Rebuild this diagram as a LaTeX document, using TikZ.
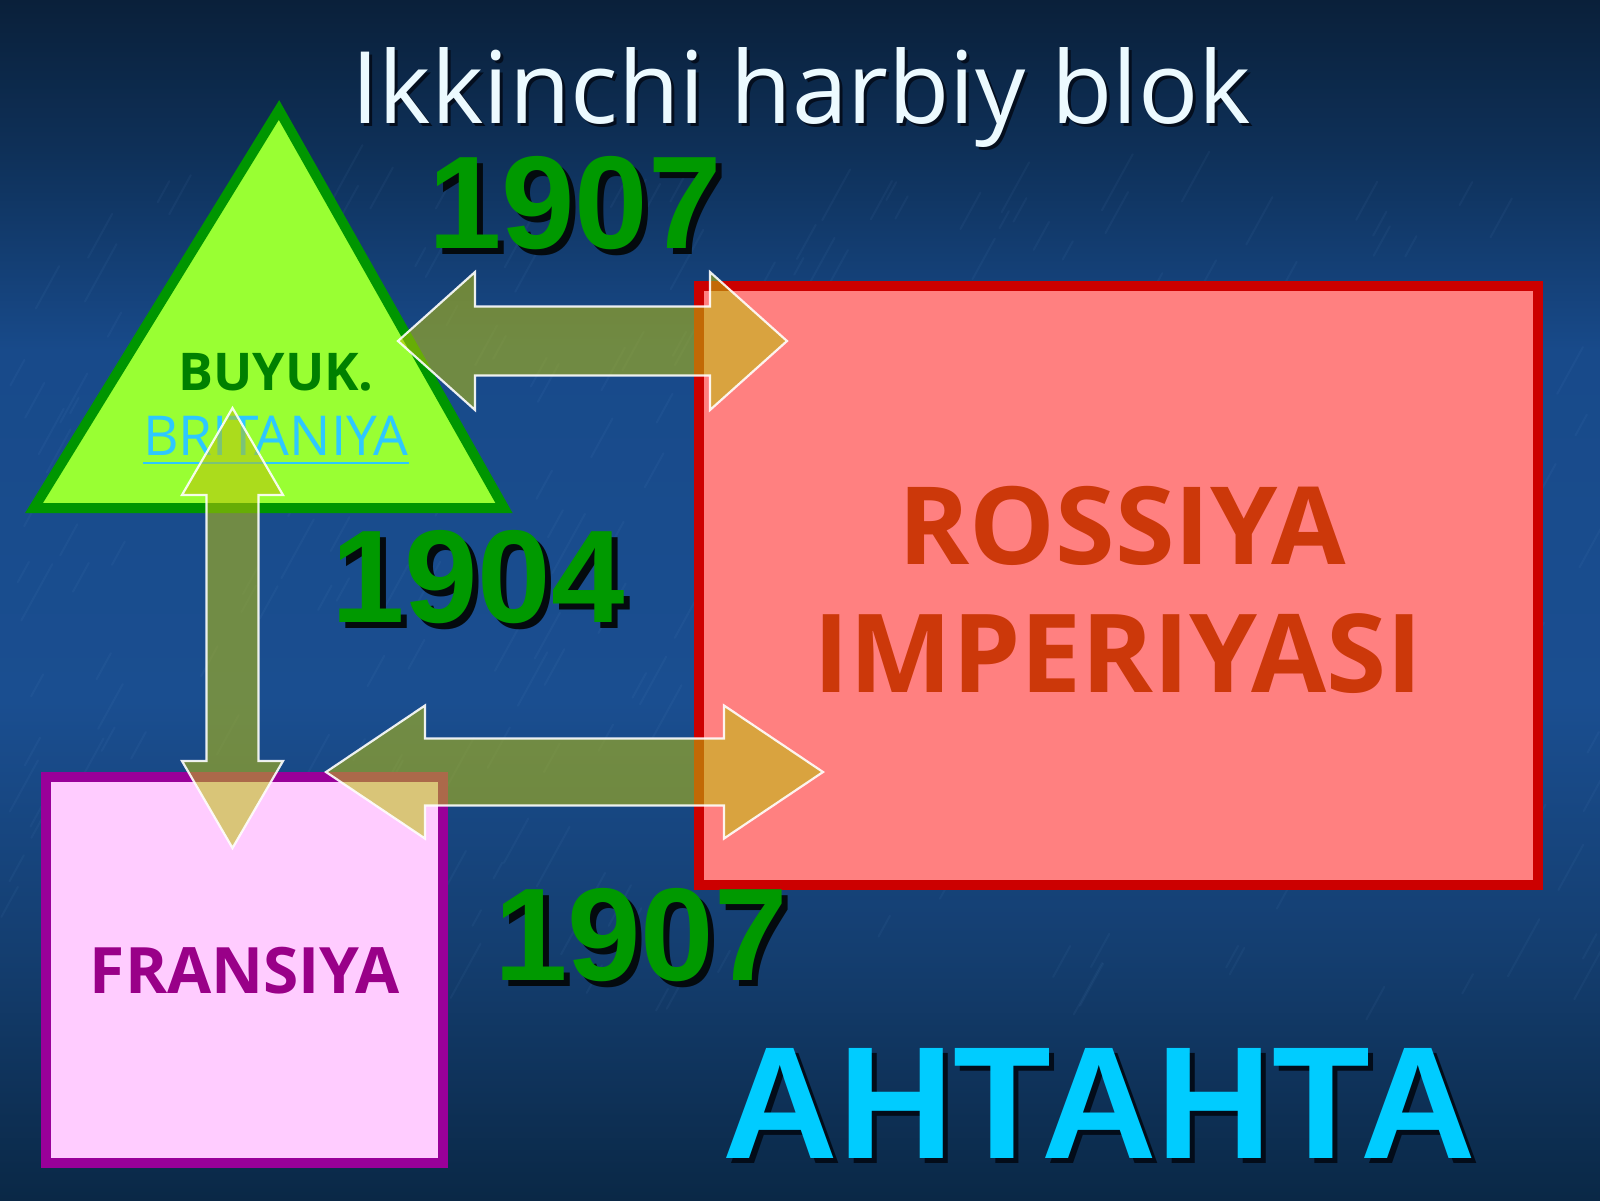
\documentclass[tikz,border=0pt]{standalone}
\usepackage{fontspec}
\setmainfont{Open Sans}
\newfontfamily\lsans{Liberation Sans}
\usetikzlibrary{calc}
\definecolor{bg0}{RGB}{10,32,58}
\definecolor{bg1}{RGB}{14,48,88}
\definecolor{bg2}{RGB}{24,74,138}
\definecolor{bg3}{RGB}{26,78,144}
\definecolor{bg4}{RGB}{20,62,112}
\definecolor{bg5}{RGB}{10,40,70}
\definecolor{streakc}{RGB}{120,170,225}
\definecolor{trifillc}{RGB}{153,255,51}
\definecolor{triline}{RGB}{0,150,0}
\definecolor{buyukc}{RGB}{0,128,0}
\definecolor{britc}{RGB}{45,200,255}
\definecolor{redfill}{RGB}{255,128,128}
\definecolor{redline}{RGB}{204,0,0}
\definecolor{rossc}{RGB}{204,56,10}
\definecolor{pinkfill}{RGB}{255,204,255}
\definecolor{pinkline}{RGB}{153,0,153}
\definecolor{fransc}{RGB}{153,0,136}
\definecolor{arrfill}{RGB}{186,192,10}
\definecolor{yearc}{RGB}{0,153,0}
\definecolor{yearsh}{RGB}{4,10,14}
\definecolor{antc}{RGB}{0,204,255}
\definecolor{antsh}{RGB}{3,12,25}
\definecolor{titlec}{RGB}{236,250,255}
\definecolor{titlesh}{RGB}{4,14,30}
\pgfdeclareverticalshading{bgshade}{100bp}{color(0bp)=(bg5); color(25bp)=(bg5); color(35.4bp)=(bg4); color(45.8bp)=(bg3); color(60.4bp)=(bg2); color(68.75bp)=(bg1); color(75bp)=(bg0); color(100bp)=(bg0)}
\newcommand\shtext[4]{\makebox[0pt][l]{\hspace*{#1}\raisebox{-#2}{\textcolor{#3}{#4}}}#4}
\newcommand\myHArrow[5]{%
  \filldraw[arrowshape] (#1) -- ($(#1)+(#3,-#4)$) -- ($(#1)+(#3,-#5)$) -- ($(#2)+(-#3,-#5)$) -- ($(#2)+(-#3,-#4)$) -- (#2) -- ($(#2)+(-#3,#4)$) -- ($(#2)+(-#3,#5)$) -- ($(#1)+(#3,#5)$) -- ($(#1)+(#3,#4)$) -- cycle;}
\newcommand\myVArrow[5]{%
  \filldraw[arrowshape] (#1) -- ($(#1)+(#4,#3)$) -- ($(#1)+(#5,#3)$) -- ($(#2)+(#5,-#3)$) -- ($(#2)+(#4,-#3)$) -- (#2) -- ($(#2)+(-#4,-#3)$) -- ($(#2)+(-#5,-#3)$) -- ($(#1)+(-#5,#3)$) -- ($(#1)+(-#4,#3)$) -- cycle;}
\begin{document}
\begin{tikzpicture}[x=0.5pt,y=-0.5pt,
  arrowshape/.style={fill=arrfill,fill opacity=0.55,draw=white,draw opacity=0.9,line width=1.1pt,line join=miter},
  yeartext/.style={font=\lsans\bfseries\fontsize{66pt}{78pt}\selectfont,anchor=base,inner sep=0pt,text=yearc},
  plain/.style={anchor=base,inner sep=0pt},
  streak/.style={streakc,line cap=round}]
\useasboundingbox (0,0) rectangle (1600,1200);
\shade[shading=bgshade] (0,0) rectangle (1600,1200);
% background texture
\pgfmathsetseed{11}
\begin{scope}
\clip (0,0) rectangle (1600,1200);
\foreach \i in {1,...,300}{
  \pgfmathsetmacro\xx{rnd*1600}
  \pgfmathsetmacro\yy{200+rnd*820}
  \pgfmathsetmacro\ll{15+rnd*45}
  \draw[streak,opacity=0.06,line width=1pt] (\xx,\yy) -- ++(0.55*\ll,-\ll);
}
\end{scope}

% shapes
\coordinate (triA) at (279,110);
\coordinate (triL) at (34,508);
\coordinate (triR) at (504,508);
\filldraw[fill=trifillc,draw=triline,line width=5pt,line join=miter] (triA) -- (triL) -- (triR) -- cycle;
\node[draw=redline,fill=redfill,line width=5pt,minimum width=419.5pt,minimum height=299.5pt,inner sep=0pt] (ross) at (1118.5,585.5) {};
\node[draw=pinkline,fill=pinkfill,line width=5pt,minimum width=198.5pt,minimum height=193pt,inner sep=0pt] (fran) at (244.5,970) {};

% labels
\node[plain,text=buyukc,font=\bfseries\fontsize{26pt}{30pt}\selectfont] (buyuk) at (276,390) {BUYUK.};
\node[plain,text=britc,font=\fontsize{27.5pt}{32pt}\selectfont] (brit) at (276,455) {BRITANIYA};
\draw[britc,line width=1.1pt] ($(brit.base west)+(0,8)$) -- ($(brit.base east)+(0,8)$);
\node[plain,text=rossc,font=\bfseries\fontsize{54pt}{60pt}\selectfont] (ross1) at (1122,564) {ROSSIYA};
\node[plain,text=rossc,font=\bfseries\fontsize{54.5pt}{60pt}\selectfont] (ross2) at (1118,692) {IMPERIYASI};
\node[plain,text=fransc,font=\bfseries\fontsize{32pt}{36pt}\selectfont] (fransiya) at (245,993) {FRANSIYA};

% arrows
\coordinate (arTl) at (398,341);
\coordinate (arTr) at (787,341);
\coordinate (arVt) at (232.5,408);
\coordinate (arVb) at (232.5,848);
\coordinate (arBl) at (326,772);
\coordinate (arBr) at (823,772);
\myHArrow{arTl}{arTr}{77}{69}{34.5}
\myVArrow{arVt}{arVb}{87}{50.5}{26}
\myHArrow{arBl}{arBr}{99}{66.5}{33.5}

% years
\node[yeartext] (y1) at (575,248) {\shtext{3pt}{3pt}{yearsh}{1907}};
\node[yeartext] (y2) at (478,622) {\shtext{3pt}{3pt}{yearsh}{1904}};
\node[yeartext] (y3) at (641,980) {\shtext{3pt}{3pt}{yearsh}{1907}};

% title
\node[plain,text=titlec,font=\fontsize{50pt}{60pt}\selectfont] (title) at (801,123) {\shtext{1.5pt}{1.5pt}{titlesh}{Ikkinchi harbiy blok}};

% entente
\node[plain,text=antc,font=\lsans\bfseries\fontsize{80pt}{90pt}\selectfont] (ant) at (1099,1158) {\shtext{2.5pt}{2.5pt}{antsh}{АНТАНТА}};
\end{tikzpicture}
\end{document}
